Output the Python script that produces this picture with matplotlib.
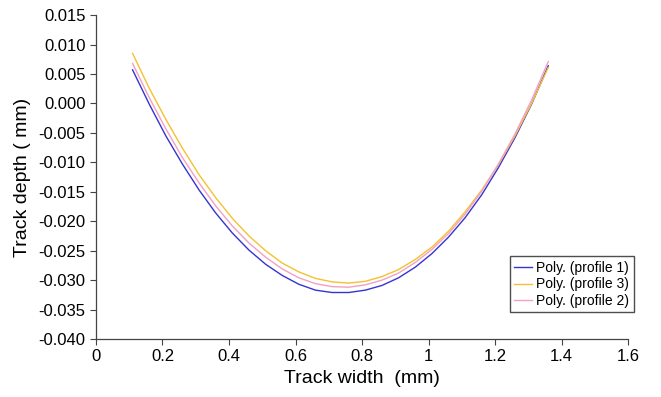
import matplotlib
matplotlib.use("Agg")
import matplotlib.pyplot as plt

plt.rcParams['font.family'] = ['Liberation Sans', 'DejaVu Sans']
plt.rcParams['axes.unicode_minus'] = False

# track width (mm)
width = [0.11, 0.16, 0.21, 0.26, 0.31, 0.36, 0.41, 0.46, 0.51, 0.56, 0.61, 0.66, 0.71,
         0.76, 0.81, 0.86, 0.91, 0.96, 1.01, 1.06, 1.11, 1.16, 1.21, 1.26, 1.31, 1.36]

# track depth (mm) for each profile
profile1 = [0.0057, -0.0001, -0.0055, -0.0103, -0.0147, -0.0186, -0.0220, -0.0249, -0.0273,
            -0.0292, -0.0307, -0.0317, -0.0321, -0.0321, -0.0317, -0.0309, -0.0296, -0.0278,
            -0.0255, -0.0227, -0.0194, -0.0155, -0.0109, -0.0058, -0.0001, 0.0064]
profile3 = [0.0085, 0.0026, -0.0027, -0.0076, -0.0121, -0.0160, -0.0195, -0.0225, -0.0250,
            -0.0271, -0.0286, -0.0297, -0.0303, -0.0305, -0.0302, -0.0294, -0.0282, -0.0265,
            -0.0244, -0.0217, -0.0184, -0.0147, -0.0104, -0.0055, 0.0000, 0.0061]
profile2 = [0.0068, 0.0010, -0.0043, -0.0092, -0.0135, -0.0174, -0.0208, -0.0237, -0.0261,
            -0.0281, -0.0296, -0.0306, -0.0311, -0.0312, -0.0308, -0.0300, -0.0288, -0.0270,
            -0.0248, -0.0221, -0.0188, -0.0149, -0.0103, -0.0052, 0.0006, 0.0071]

xticks = [0, 0.2, 0.4, 0.6, 0.8, 1.0, 1.2, 1.4, 1.6]
xlabels = ['0', '0.2', '0.4', '0.6', '0.8', '1', '1.2', '1.4', '1.6']
yticks = [0.015, 0.010, 0.005, 0.000, -0.005, -0.010, -0.015, -0.020,
          -0.025, -0.030, -0.035, -0.040]

fig = plt.figure(figsize=(6.61, 3.97), dpi=100)
ax = fig.add_axes([0.1452, 0.146, 0.805, 0.816])

ax.plot(width, profile1, color='#3434d2', lw=1.0, label='Poly. (profile 1)')
ax.plot(width, profile3, color='#f2c230', lw=1.0, label='Poly. (profile 3)')
ax.plot(width, profile2, color='#f2a0c4', lw=1.0, label='Poly. (profile 2)')

ax.set_xlim(0, 1.6)
ax.set_ylim(-0.040, 0.015)
ax.set_xticks(xticks)
ax.set_xticklabels(xlabels)
ax.set_yticks(yticks)
ax.set_yticklabels(['%.3f' % v for v in yticks])
ax.tick_params(direction='out', length=4, width=0.8, labelsize=12, color='#444444')

for side in ['top', 'right']:
    ax.spines[side].set_visible(False)
for side in ['left', 'bottom']:
    ax.spines[side].set_color('#444444')
    ax.spines[side].set_linewidth(0.9)

ax.set_xlabel('Track width  (mm)', fontsize=14, labelpad=4)
ax.set_ylabel('Track depth ( mm)', fontsize=14, labelpad=5)

leg = ax.legend(loc='upper left', bbox_to_anchor=(0.778, 0.255), fontsize=10,
                frameon=True, fancybox=False, handlelength=1.3, handletextpad=0.3,
                borderpad=0.3, labelspacing=0.2, borderaxespad=0)
leg.get_frame().set_edgecolor('#222222')
leg.get_frame().set_linewidth(1.0)

fig.savefig('out.png', dpi=100)
